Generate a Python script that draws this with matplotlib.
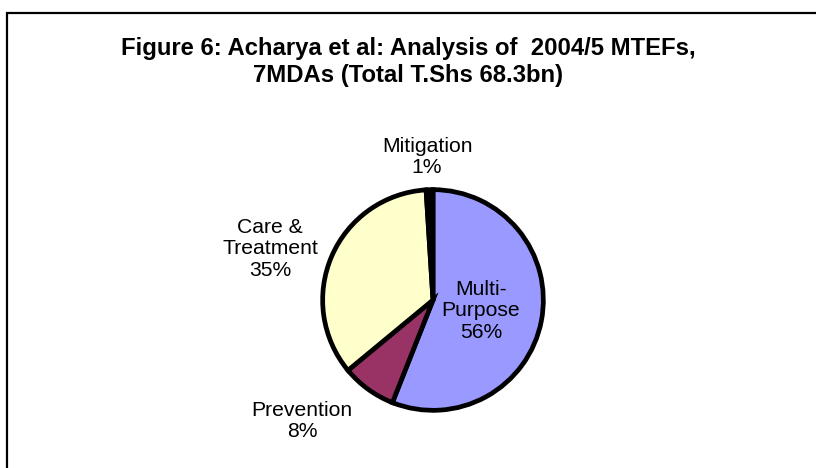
import matplotlib.pyplot as plt
from matplotlib.patches import Rectangle

plt.rcParams['font.family'] = ['Liberation Sans', 'DejaVu Sans']

# slices, clockwise from 12 o'clock
labels = ['Multi-\nPurpose', 'Prevention', 'Care &\nTreatment', 'Mitigation']
shares = [56, 8, 35, 1]
colors = ['#9999FF', '#993366', '#FFFFCC', '#000000']
title = 'Figure 6: Acharya et al: Analysis of  2004/5 MTEFs,\n7MDAs (Total T.Shs 68.3bn)'

W, H = 816, 468
fig = plt.figure(figsize=(W / 100, H / 100), dpi=100)

# chart area border (runs off the right and bottom of the image)
fig.patches.append(Rectangle((7 / W, -0.05), 1.1, 1.05 - 13 / H, transform=fig.transFigure,
                             fill=False, edgecolor='black', linewidth=1.6))

fig.text(0.500, 1 - 62 / H, title, ha='center', va='center', fontsize=17.2,
         fontweight='bold', linespacing=1.2)

# pie: centre (433, 300) px, radius 112 px
r = 112
ax = fig.add_axes([(433 - r) / W, (H - 300 - r) / H, 2 * r / W, 2 * r / H])
wedges, _ = ax.pie(shares, colors=colors, startangle=90, counterclock=False,
                   wedgeprops=dict(edgecolor='black', linewidth=3.4, joinstyle='miter'))
ax.set_xlim(-1.015, 1.015)
ax.set_ylim(-1.015, 1.015)
ax.set_aspect('equal')
ax.axis('off')

# labels with percentages, positioned in pixels
label_pos = [(481, 311), (302, 421), (270, 249), (427, 157)]
for lab, val, (px, py) in zip(labels, shares, label_pos):
    fig.text(px / W, 1 - py / H, f'{lab}\n{val}%', ha='center', va='center',
             fontsize=15.2, linespacing=1.17)

fig.savefig('out.png', dpi=100)
